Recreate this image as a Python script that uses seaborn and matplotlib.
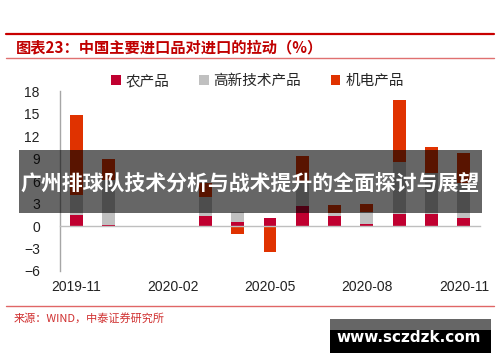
import numpy as np
import pandas as pd
import matplotlib
matplotlib.use("Agg")
import matplotlib.pyplot as plt
import seaborn as sns
from matplotlib.patches import Rectangle, Patch
from matplotlib.lines import Line2D

nan = np.nan
months = ['2019-11', '2019-12', '2020-01', '2020-02', '2020-03', '2020-04', '2020-05',
          '2020-06', '2020-07', '2020-08', '2020-09', '2020-10', '2020-11']
agri = [1.45, 0.1, nan, nan, 1.4, 0.5, 1.05, 2.65, 1.3, 0.25, 1.6, 1.6, 1.05]
hightech = [2.65, 6.1, nan, nan, 2.45, 1.35, 0.0, 3.15, 0.45, 1.6, 6.9, 5.5, 4.75]
mech = [10.7, 2.7, nan, nan, 1.85, -1.05, -3.45, 3.5, 1.05, 1.05, 8.3, 3.5, 4.0]
series_names = ['农产品', '高新技术产品', '机电产品']
colors = ['#C00030', '#C0C0C0', '#E03200']
xtick_labels = ['2019-11', '2020-02', '2020-05', '2020-08', '2020-11']
yticks = [-6, -3, 0, 3, 6, 9, 12, 15, 18]
title = '图表23：中国主要进口品对进口的拉动（%）'
source = '来源：WIND，中泰证券研究所'
banner = '广州排球队技术分析与战术提升的全面探讨与展望'
watermark = 'www.sczdzk.com'

sns.set_style('white')
plt.rcParams['font.family'] = ['Liberation Sans', 'Noto Sans CJK SC', 'DejaVu Sans']
CJK = ['Noto Sans CJK SC', 'DejaVu Sans']

df = pd.DataFrame({'month': months, series_names[0]: agri,
                   series_names[1]: hightech, series_names[2]: mech})

# stacked heights (positives stack up, negatives stack down)
vals = df[series_names].to_numpy()
pos_cum = np.cumsum(np.where(vals > 0, vals, 0), axis=1)
neg_cum = np.cumsum(np.where(vals < 0, vals, 0), axis=1)
tops = np.where(vals >= 0, pos_cum, neg_cum)
tops = np.where(np.isnan(vals), np.nan, tops)

fig = plt.figure(figsize=(5.0, 3.62), dpi=100)
ax = fig.add_axes([60 / 500, 1 - 271 / 362, 420 / 500, 180 / 362])

for i in reversed(range(len(series_names))):
    layer = pd.DataFrame({'month': months, 'top': tops[:, i]})
    sns.barplot(data=layer, x='month', y='top', order=months, color=colors[i],
                saturation=1, width=0.4, errorbar=None, linewidth=0, ax=ax)

ax.set_xlim(-0.5, len(months) - 0.5)
ax.set_ylim(-6, 18)
ax.set_yticks(yticks)
ax.set_xlabel('')
ax.set_ylabel('')
for s in ['top', 'right']:
    ax.spines[s].set_visible(False)
ax.spines['bottom'].set_position(('data', 0))
ax.spines['bottom'].set_color('#BFBFBF')
ax.spines['left'].set_color('#A6A6A6')
ax.spines['bottom'].set_linewidth(1)
ax.spines['left'].set_linewidth(1)

ax.set_xticks([2.5, 5.5, 8.5, 11.5])
ax.set_xticklabels([])
label_pos = [months.index(m) for m in xtick_labels]
ax.set_xticks(label_pos, minor=True)
ax.set_xticklabels(xtick_labels, minor=True)
ax.tick_params(axis='x', which='major', length=3, width=1, color='#A6A6A6', direction='out')
ax.tick_params(axis='x', which='minor', length=0, pad=39, labelsize=10, labelcolor='#222222')
ax.tick_params(axis='y', length=4, width=1, color='#A6A6A6', direction='out', pad=10.5,
               labelsize=10, labelcolor='#222222')

handles = [Patch(facecolor=c, edgecolor='none') for c in colors]
fig.legend(handles, series_names, loc='center', bbox_to_anchor=(0.515, 1 - 81 / 362),
           ncol=3, frameon=False, handlelength=0.65, handleheight=0.65,
           handletextpad=0.35, columnspacing=2.0, prop={'family': CJK, 'size': 10.5})

fig.text(16 / 500, 1 - 47 / 362, title, color='#C00000', fontsize=11, weight='bold',
         family=CJK, ha='left', va='center')
fig.add_artist(Line2D([6 / 500, 494 / 500], [1 - 34 / 362] * 2, color='#C80000', lw=1.6))
fig.add_artist(Line2D([6 / 500, 494 / 500], [1 - 58 / 362] * 2, color='#E07070', lw=1))
fig.add_artist(Line2D([6 / 500, 494 / 500], [1 - 306 / 362] * 2, color='#E06666', lw=1))
fig.text(14 / 500, 1 - 318 / 362, source, color='#D03030', fontsize=8, family=CJK,
         ha='left', va='center')

fig.add_artist(Rectangle((19 / 500, 1 - 213 / 362), 463 / 500, 63 / 362,
                         transform=fig.transFigure, facecolor='black', alpha=0.6,
                         edgecolor='none', zorder=10))
fig.text(250.5 / 500, 1 - 183 / 362, banner, color='white', fontsize=15, weight='bold',
         family=CJK, ha='center', va='center', zorder=11)

fig.add_artist(Rectangle((330 / 500, 1 - 330 / 362), 161 / 500, 11 / 362,
                         transform=fig.transFigure, facecolor='#666666',
                         edgecolor='none', zorder=10))
fig.add_artist(Rectangle((330 / 500, 1 - 353 / 362), 161 / 500, 23 / 362,
                         transform=fig.transFigure, facecolor='black',
                         edgecolor='none', zorder=10))
fig.text(409 / 500, 1 - 337 / 362, watermark, color='white', fontsize=11, weight='bold',
         family=['DejaVu Sans'], ha='center', va='center', zorder=11)

fig.savefig('out.png', dpi=100)
